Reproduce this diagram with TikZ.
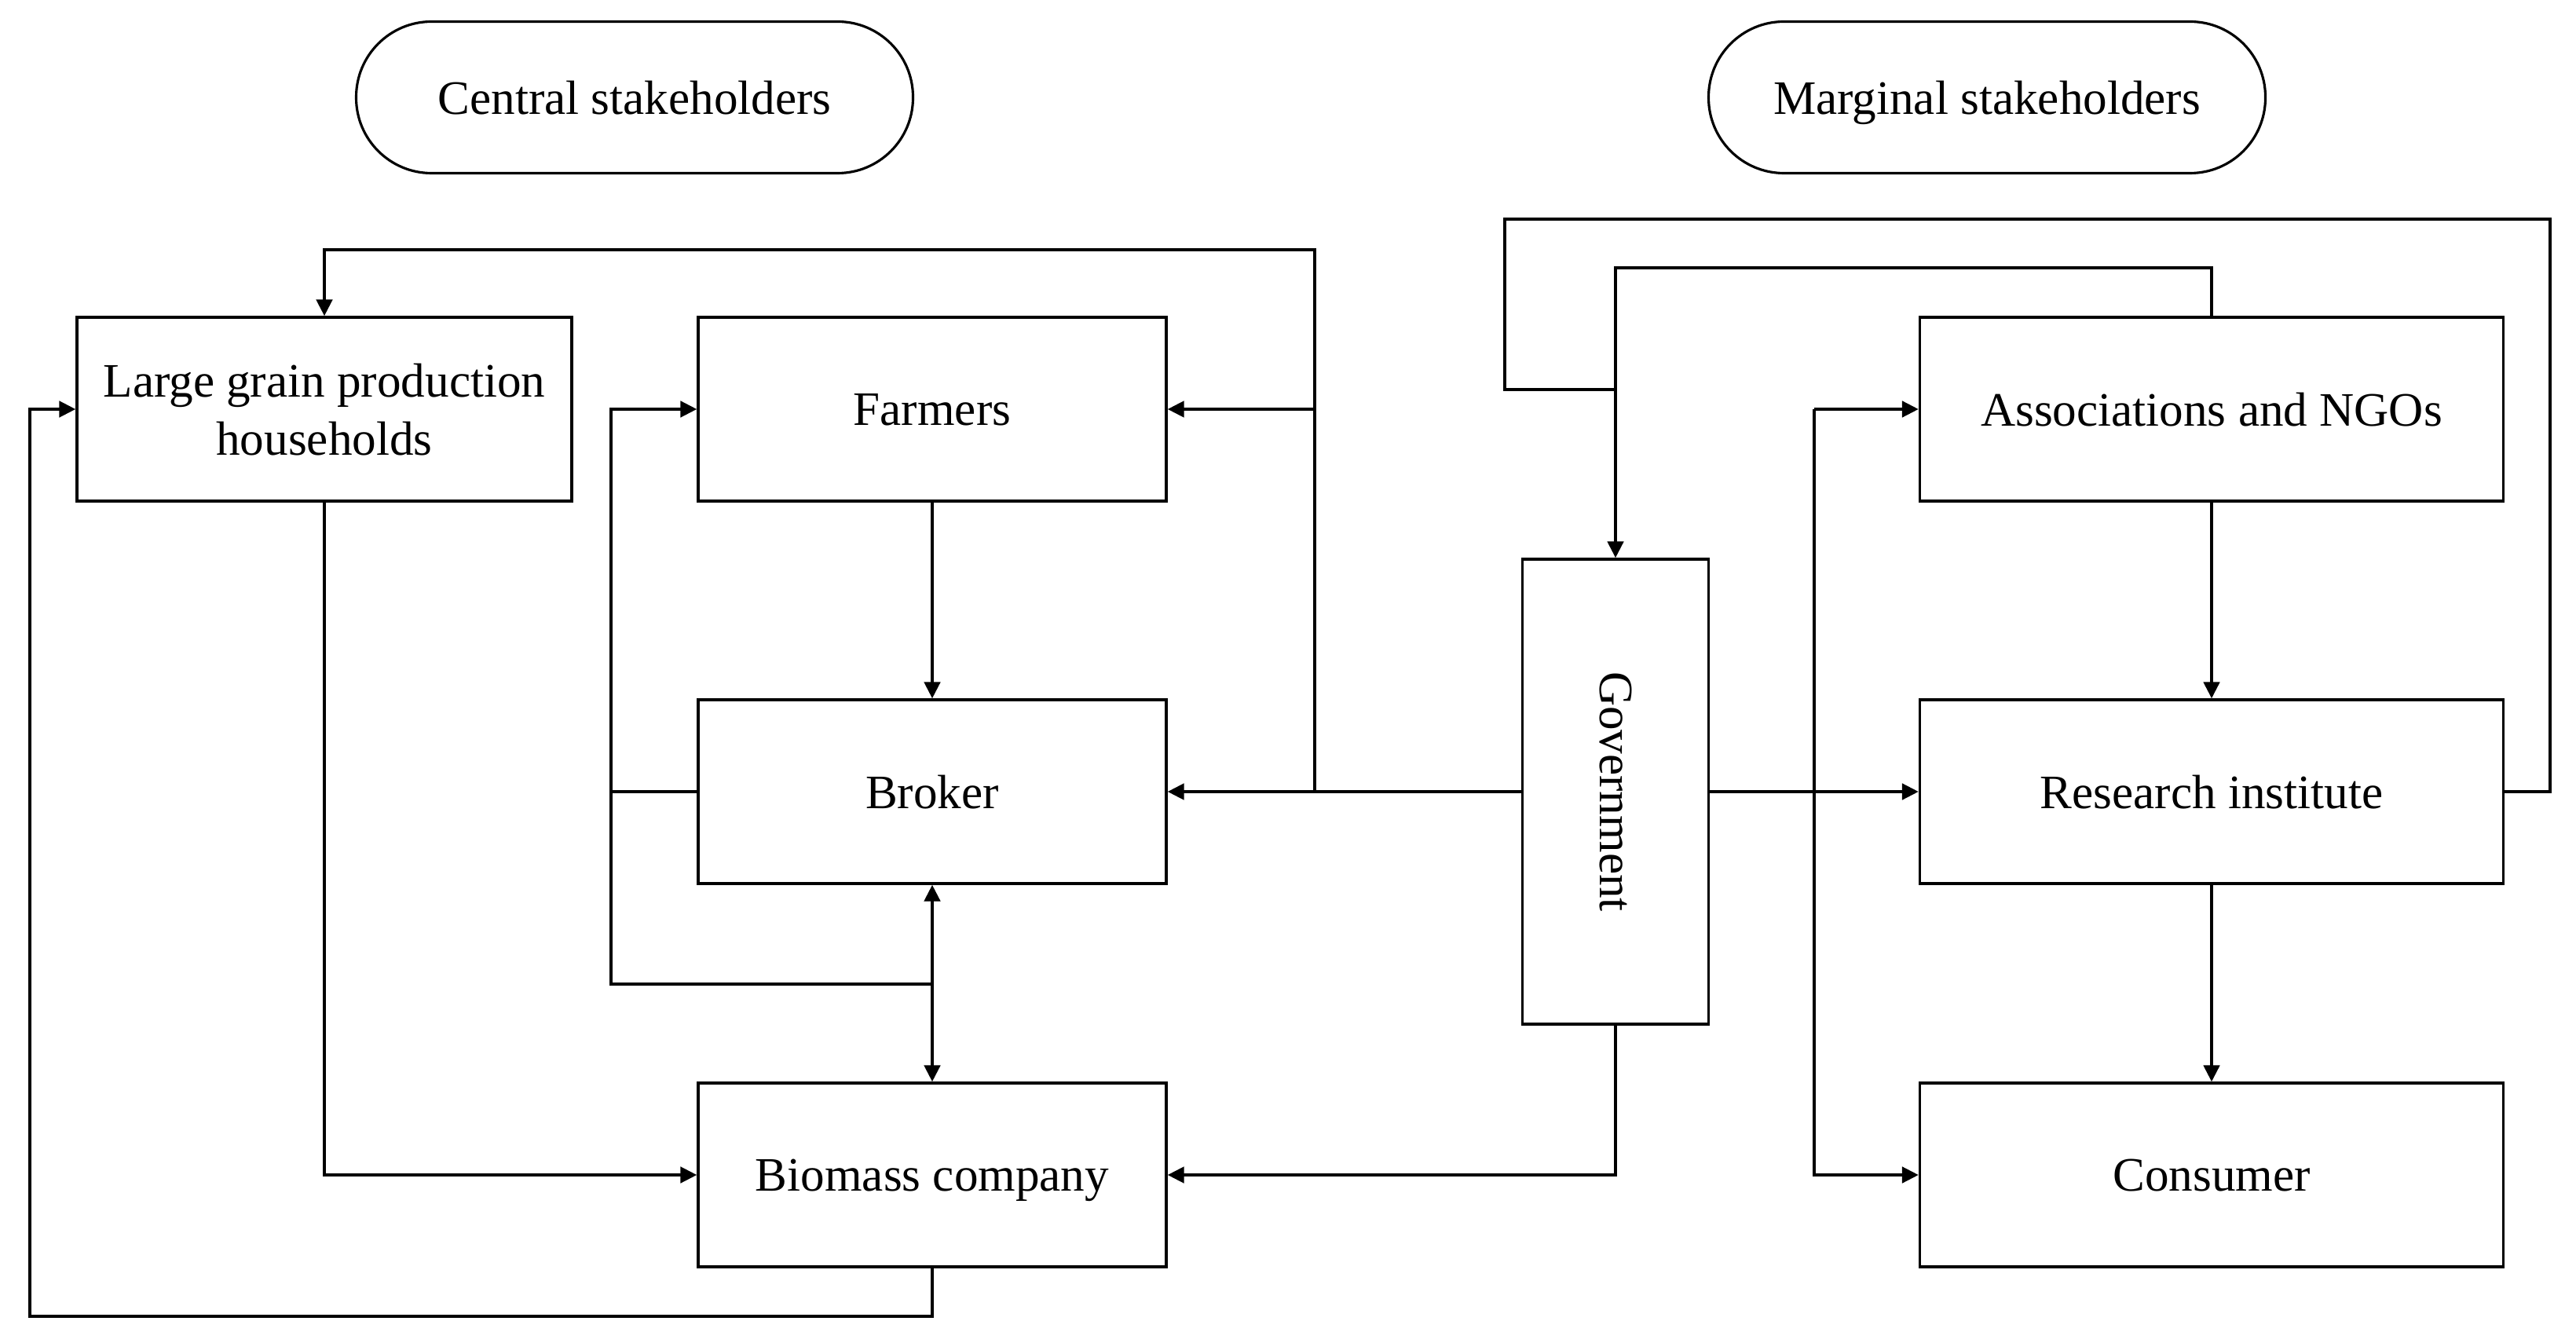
\documentclass[tikz,border=0pt]{standalone}
\usepackage{fontspec}
\usepackage{graphicx}
\setmainfont{Liberation Serif}
\usetikzlibrary{arrows.meta}

\tikzset{
    box/.style={draw, line width=0.9pt, align=center, minimum height=2.34cm,
        font=\fontsize{17.4}{21}\selectfont, text depth=0pt},
    group/.style={draw, line width=0.9pt, rounded corners=0.96cm, minimum width=7.09cm,
        minimum height=1.93cm, font=\fontsize{17.4}{21}\selectfont, text depth=0pt},
    arr/.style={line width=1.3pt, -{Triangle[length=2.1mm, width=2mm]}},
    lnk/.style={line width=1.3pt}
}

\begin{document}
\begin{tikzpicture}
    \useasboundingbox (0,0) rectangle (32.8,-17.1);
    % stakeholder groups
    \node[group] (central) at (8.08,-1.24) {Central stakeholders};
    \node[group] (marginal) at (25.30,-1.24) {Marginal stakeholders};
    % central side
    \node[box, minimum width=6.30cm] (large) at (4.13,-5.21) {Large grain production\\households};
    \node[box, minimum width=5.96cm] (farmers) at (11.87,-5.21) {Farmers};
    \node[box, minimum width=5.96cm] (broker) at (11.87,-10.08) {Broker};
    \node[box, minimum width=5.96cm] (biomass) at (11.87,-14.96) {Biomass company};
    \node[box, text depth=, minimum width=2.37cm, minimum height=5.92cm] (gov) at (20.57,-10.08) {\rotatebox{-90}{Government}};
    % marginal side
    \node[box, minimum width=7.43cm] (assoc) at (28.16,-5.21) {Associations and NGOs};
    \node[box, minimum width=7.43cm] (research) at (28.16,-10.08) {Research institute};
    \node[box, minimum width=7.43cm] (consumer) at (28.16,-14.96) {Consumer};

    \coordinate (jtop) at (16.74,-10.08);
    \coordinate (ctop) at (16.74,-3.18);
    \coordinate (cl) at (7.78,-10.08);
    \coordinate (cbot) at (7.78,-12.53);
    \coordinate (jmid) at (11.87,-12.53);
    \coordinate (cll) at (0.38,-16.76);
    \coordinate (cru) at (23.10,-5.21);
    \coordinate (crd) at (23.10,-14.96);
    \coordinate (cg) at (20.57,-3.41);
    \coordinate (ro) at (32.47,-2.79);
    \coordinate (lo) at (19.16,-4.96);

    \draw[arr] (farmers) -- (broker);
    \draw[arr] (gov) -- (broker);
    \draw[arr] (jtop) |- (farmers.east);
    \draw[arr] (jtop) -- (ctop) -| (large.north);
    \draw[arr] (broker.west) -- (cl) |- (farmers.west);
    \draw[lnk] (cl) -- (cbot) -- (jmid);
    \draw[arr] (jmid) -- (broker.south);
    \draw[arr] (jmid) -- (biomass.north);
    \draw[arr] (large.south) |- (biomass.west);
    \draw[arr] (biomass.south) |- (cll) |- (large.west);
    \draw[arr] (gov.south) |- (biomass.east);

    \draw[arr] (gov) -- (research);
    \draw[arr] (assoc) -- (research);
    \draw[arr] (research) -- (consumer);
    \draw[arr] (cru) -- (assoc.west);
    \draw[arr] (cru) -- (crd) -- (consumer.west);
    \draw[arr] (assoc.north) |- (cg) -- (gov.north);
    \draw[lnk] (research.east) -| (ro) -| (lo) -- (gov.north |- lo);
\end{tikzpicture}
\end{document}
